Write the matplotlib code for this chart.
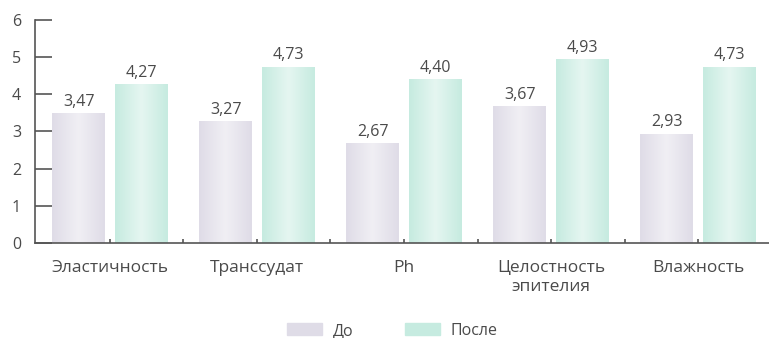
import numpy as np
import matplotlib.pyplot as plt
from matplotlib.patches import Patch

# Данные
categories = ['Эластичность', 'Транссудат', 'Ph', 'Целостность\nэпителия', 'Влажность']
before = [3.47, 3.27, 2.67, 3.67, 2.93]
after = [4.27, 4.73, 4.40, 4.93, 4.73]
series_names = ['До', 'После']

col_before = '#dfdce7'
col_after = '#c6ebe0'
text_col = '#4a4a4a'

plt.rcParams['font.family'] = ['Open Sans', 'DejaVu Sans']

fig = plt.figure(figsize=(7.69, 3.38), dpi=100)
ax = fig.add_axes([0.0455, 0.281, 0.954, 0.66])

x = np.arange(len(categories))
w = 0.36
off = 0.213


def gradient_bars(bars, color):
    # горизонтальный градиент: края темнее, середина светлее
    from matplotlib.colors import to_rgb, LinearSegmentedColormap
    c = np.array(to_rgb(color))
    light = c + (1 - c) * 0.55
    cmap = LinearSegmentedColormap.from_list('g', [c, light, c])
    grad = np.linspace(0, 1, 64).reshape(1, -1)
    for bar in bars:
        x0, h = bar.get_x(), bar.get_height()
        ax.imshow(grad, cmap=cmap, aspect='auto', zorder=2,
                  extent=[x0, x0 + bar.get_width(), 0, h])
        bar.set_visible(False)


b1 = ax.bar(x - off, before, w, color=col_before, zorder=2)
b2 = ax.bar(x + off, after, w, color=col_after, zorder=2)
gradient_bars(b1, col_before)
gradient_bars(b2, col_after)

# подписи значений
for bars, vals in [(b1, before), (b2, after)]:
    for bar, v in zip(bars, vals):
        ax.text(bar.get_x() + bar.get_width() / 2, v + 0.1,
                f'{v:.2f}'.replace('.', ','), ha='center', va='bottom',
                fontsize=11.5, color=text_col)

ax.set_ylim(0, 6)
ax.set_xlim(-0.51, 4.48)
ax.set_yticks(range(0, 7))
ax.tick_params(axis='y', direction='in', length=12, width=1.2, color='#555555',
               labelsize=11.5, labelcolor=text_col, pad=10)
ax.set_xticks(x)
ax.set_xticklabels(categories, fontsize=12.5, color=text_col, linespacing=1.3)
ax.set_xticks(x[:-1] + 0.5, minor=True)
ax.tick_params(axis='x', which='both', direction='in', length=3, width=1.2,
               color='#555555', pad=12)

for s in ['top', 'right']:
    ax.spines[s].set_visible(False)
ax.spines['left'].set_color('#555555')
ax.spines['bottom'].set_color('#555555')
ax.spines['left'].set_linewidth(1.2)
ax.spines['bottom'].set_linewidth(1.2)

handles = [Patch(color=col_before), Patch(color=col_after)]
fig.legend(handles, series_names, loc='lower center', bbox_to_anchor=(0.51, -0.045),
           ncol=2, frameon=False, fontsize=11.5, labelcolor=text_col,
           handlelength=2.2, handleheight=0.8, handletextpad=0.7, columnspacing=3.2)

fig.savefig('out.png', dpi=100)
